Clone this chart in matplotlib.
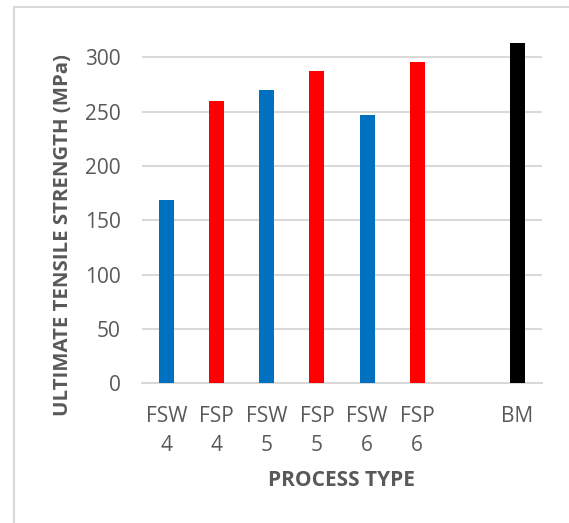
import matplotlib
matplotlib.use("Agg")
import matplotlib.pyplot as plt
from matplotlib.patches import Rectangle

# Ultimate tensile strength per process type
categories = ["FSW\n4", "FSP\n4", "FSW\n5", "FSP\n5", "FSW\n6", "FSP\n6", "", "BM"]
uts_values = [169, 260, 270, 287, 247, 296, None, 313]
bar_colors = ["#0070C0", "#FF0000", "#0070C0", "#FF0000", "#0070C0", "#FF0000", "none", "#000000"]
y_ticks = [0, 50, 100, 150, 200, 250, 300]

plt.rcParams["font.family"] = ["Open Sans", "DejaVu Sans"]
text_gray = "#595959"
grid_gray = "#D9D9D9"

fig = plt.figure(figsize=(5.69, 5.23), dpi=100)
ax = fig.add_axes([0.2487, 0.2671, 0.7047, 0.6648])

xs = list(range(len(categories)))
for x, v, c in zip(xs, uts_values, bar_colors):
    if v is None:
        continue
    ax.bar(x, v, width=0.3, color=c, zorder=3)

ax.set_xlim(-0.5, len(categories) - 0.5)
ax.set_ylim(0, 320)
ax.set_yticks(y_ticks)
ax.set_xticks(xs)
ax.set_xticklabels(categories, linespacing=1.55)

ax.yaxis.grid(True, color=grid_gray, linewidth=1.5, zorder=0)
ax.set_axisbelow(True)
for side in ["top", "right", "left"]:
    ax.spines[side].set_visible(False)
ax.spines["bottom"].set_color(grid_gray)
ax.spines["bottom"].set_linewidth(1.5)

ax.tick_params(axis="both", length=0, labelsize=15, labelcolor=text_gray)
ax.tick_params(axis="y", pad=15)
ax.tick_params(axis="x", pad=16)

fig.text(341 / 569, 1 - 480 / 523, "PROCESS TYPE", ha="center", va="center",
         fontsize=15, fontweight="bold", color=text_gray)
fig.text(63.5 / 569, 1 - 235 / 523, "ULTIMATE TENSILE STRENGTH (MPa)", ha="center",
         va="center", rotation=90, fontsize=14.7, fontweight="bold", color=text_gray)

# light outer frame of the chart area
fig.patches.append(Rectangle((14 / 569, -0.05), 1.0, 1 - 7 / 523 + 0.05,
                             transform=fig.transFigure, fill=False,
                             edgecolor=grid_gray, linewidth=1.5))

fig.savefig("out.png", dpi=100)
